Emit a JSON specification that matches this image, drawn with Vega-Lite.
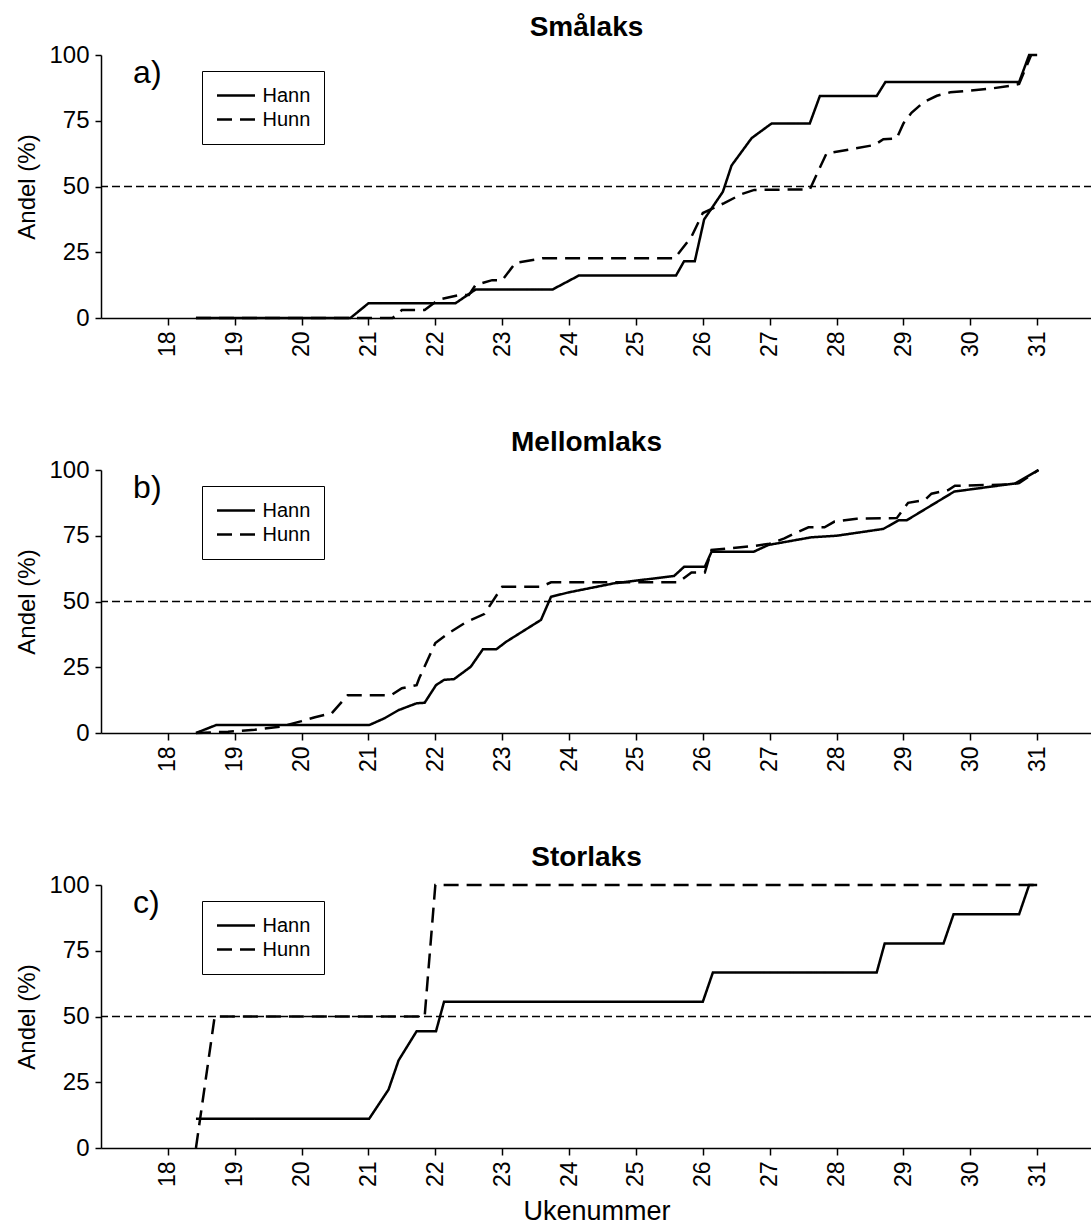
{
  "$schema": "https://vega.github.io/schema/vega-lite/v6.json",
  "padding": {"left": 15, "top": 14, "right": 0, "bottom": 0},
  "background": "white",
  "config": {
    "font": "Liberation Sans",
    "view": {"stroke": null},
    "axis": {
      "domainColor": "black", "domainWidth": 1.5, "tickColor": "black", "tickWidth": 1.5,
      "labelColor": "black", "titleColor": "black", "labelFont": "Liberation Sans", "titleFont": "Liberation Sans",
      "grid": false, "titleFontWeight": "normal"
    },
    "title": {"fontSize": 28, "fontWeight": "bold", "font": "Liberation Sans", "color": "black", "offset": 1},
    "legend": {
      "orient": "none", "legendX": 101, "legendY": 16, "title": null,
      "symbolType": "stroke", "symbolSize": 1444, "symbolStrokeWidth": 2.5, "symbolStrokeColor": "black",
      "labelFontSize": 20, "labelFont": "Liberation Sans", "labelColor": "black", "labelOffset": 6,
      "strokeColor": "black", "fillColor": "white", "padding": 13.5, "rowPadding": 2, "clipHeight": 22
    }
  },
  "datasets": {
    "curves": [
      {"panel": "a", "sex": "Hann", "week": 18.42, "pct": 0},
      {"panel": "a", "sex": "Hann", "week": 20.73, "pct": 0},
      {"panel": "a", "sex": "Hann", "week": 21.0, "pct": 5.6},
      {"panel": "a", "sex": "Hann", "week": 22.3, "pct": 5.6},
      {"panel": "a", "sex": "Hann", "week": 22.6, "pct": 10.8},
      {"panel": "a", "sex": "Hann", "week": 23.75, "pct": 10.8},
      {"panel": "a", "sex": "Hann", "week": 24.15, "pct": 16.2},
      {"panel": "a", "sex": "Hann", "week": 25.6, "pct": 16.2},
      {"panel": "a", "sex": "Hann", "week": 25.72, "pct": 21.6},
      {"panel": "a", "sex": "Hann", "week": 25.88, "pct": 21.6},
      {"panel": "a", "sex": "Hann", "week": 26.02, "pct": 37.5},
      {"panel": "a", "sex": "Hann", "week": 26.3, "pct": 48},
      {"panel": "a", "sex": "Hann", "week": 26.43, "pct": 58},
      {"panel": "a", "sex": "Hann", "week": 26.73, "pct": 68.4},
      {"panel": "a", "sex": "Hann", "week": 27.03, "pct": 74},
      {"panel": "a", "sex": "Hann", "week": 27.6, "pct": 74},
      {"panel": "a", "sex": "Hann", "week": 27.75, "pct": 84.4},
      {"panel": "a", "sex": "Hann", "week": 28.6, "pct": 84.4},
      {"panel": "a", "sex": "Hann", "week": 28.73, "pct": 89.7},
      {"panel": "a", "sex": "Hann", "week": 30.73, "pct": 89.7},
      {"panel": "a", "sex": "Hann", "week": 30.88, "pct": 100},
      {"panel": "a", "sex": "Hann", "week": 31.0, "pct": 100},

      {"panel": "a", "sex": "Hunn", "week": 18.42, "pct": 0},
      {"panel": "a", "sex": "Hunn", "week": 21.36, "pct": 0},
      {"panel": "a", "sex": "Hunn", "week": 21.5, "pct": 3},
      {"panel": "a", "sex": "Hunn", "week": 21.84, "pct": 3},
      {"panel": "a", "sex": "Hunn", "week": 22.05, "pct": 7},
      {"panel": "a", "sex": "Hunn", "week": 22.35, "pct": 8.7},
      {"panel": "a", "sex": "Hunn", "week": 22.5, "pct": 8.7},
      {"panel": "a", "sex": "Hunn", "week": 22.6, "pct": 12.5},
      {"panel": "a", "sex": "Hunn", "week": 22.85, "pct": 14.4},
      {"panel": "a", "sex": "Hunn", "week": 23.0, "pct": 14.4},
      {"panel": "a", "sex": "Hunn", "week": 23.2, "pct": 21},
      {"panel": "a", "sex": "Hunn", "week": 23.5, "pct": 22.2},
      {"panel": "a", "sex": "Hunn", "week": 23.6, "pct": 22.7},
      {"panel": "a", "sex": "Hunn", "week": 25.58, "pct": 22.7},
      {"panel": "a", "sex": "Hunn", "week": 25.83, "pct": 30.9},
      {"panel": "a", "sex": "Hunn", "week": 26.0, "pct": 39.9},
      {"panel": "a", "sex": "Hunn", "week": 26.32, "pct": 43.7},
      {"panel": "a", "sex": "Hunn", "week": 26.58, "pct": 47.1},
      {"panel": "a", "sex": "Hunn", "week": 26.77, "pct": 48.7},
      {"panel": "a", "sex": "Hunn", "week": 27.6, "pct": 48.9},
      {"panel": "a", "sex": "Hunn", "week": 27.85, "pct": 62.6},
      {"panel": "a", "sex": "Hunn", "week": 28.2, "pct": 64.1},
      {"panel": "a", "sex": "Hunn", "week": 28.57, "pct": 65.8},
      {"panel": "a", "sex": "Hunn", "week": 28.7, "pct": 68},
      {"panel": "a", "sex": "Hunn", "week": 28.9, "pct": 68.3},
      {"panel": "a", "sex": "Hunn", "week": 29.0, "pct": 74},
      {"panel": "a", "sex": "Hunn", "week": 29.12, "pct": 78},
      {"panel": "a", "sex": "Hunn", "week": 29.3, "pct": 82},
      {"panel": "a", "sex": "Hunn", "week": 29.5, "pct": 84.5},
      {"panel": "a", "sex": "Hunn", "week": 29.7, "pct": 85.8},
      {"panel": "a", "sex": "Hunn", "week": 30.0, "pct": 86.5},
      {"panel": "a", "sex": "Hunn", "week": 30.3, "pct": 87.2},
      {"panel": "a", "sex": "Hunn", "week": 30.6, "pct": 88.3},
      {"panel": "a", "sex": "Hunn", "week": 30.73, "pct": 89},
      {"panel": "a", "sex": "Hunn", "week": 30.91, "pct": 100},

      {"panel": "b", "sex": "Hann", "week": 18.42, "pct": 0},
      {"panel": "b", "sex": "Hann", "week": 18.72, "pct": 3.0},
      {"panel": "b", "sex": "Hann", "week": 21.01, "pct": 3.0},
      {"panel": "b", "sex": "Hann", "week": 21.24, "pct": 5.6},
      {"panel": "b", "sex": "Hann", "week": 21.45, "pct": 8.7},
      {"panel": "b", "sex": "Hann", "week": 21.72, "pct": 11.3},
      {"panel": "b", "sex": "Hann", "week": 21.84, "pct": 11.5},
      {"panel": "b", "sex": "Hann", "week": 22.01, "pct": 18.2},
      {"panel": "b", "sex": "Hann", "week": 22.13, "pct": 20.2},
      {"panel": "b", "sex": "Hann", "week": 22.28, "pct": 20.5},
      {"panel": "b", "sex": "Hann", "week": 22.53, "pct": 25.2},
      {"panel": "b", "sex": "Hann", "week": 22.71, "pct": 31.8},
      {"panel": "b", "sex": "Hann", "week": 22.91, "pct": 31.8},
      {"panel": "b", "sex": "Hann", "week": 23.06, "pct": 34.7},
      {"panel": "b", "sex": "Hann", "week": 23.58, "pct": 43},
      {"panel": "b", "sex": "Hann", "week": 23.73, "pct": 51.8},
      {"panel": "b", "sex": "Hann", "week": 24.0, "pct": 53.5},
      {"panel": "b", "sex": "Hann", "week": 24.67, "pct": 56.9},
      {"panel": "b", "sex": "Hann", "week": 25.57, "pct": 59.7},
      {"panel": "b", "sex": "Hann", "week": 25.72, "pct": 63.2},
      {"panel": "b", "sex": "Hann", "week": 26.03, "pct": 63.2},
      {"panel": "b", "sex": "Hann", "week": 26.13, "pct": 68.9},
      {"panel": "b", "sex": "Hann", "week": 26.76, "pct": 68.9},
      {"panel": "b", "sex": "Hann", "week": 26.98, "pct": 71.5},
      {"panel": "b", "sex": "Hann", "week": 27.62, "pct": 74.4},
      {"panel": "b", "sex": "Hann", "week": 28.0, "pct": 75},
      {"panel": "b", "sex": "Hann", "week": 28.7, "pct": 77.6},
      {"panel": "b", "sex": "Hann", "week": 28.93, "pct": 80.9},
      {"panel": "b", "sex": "Hann", "week": 29.05, "pct": 80.9},
      {"panel": "b", "sex": "Hann", "week": 29.76, "pct": 91.8},
      {"panel": "b", "sex": "Hann", "week": 30.67, "pct": 94.9},
      {"panel": "b", "sex": "Hann", "week": 31.02, "pct": 100},

      {"panel": "b", "sex": "Hunn", "week": 18.42, "pct": 0},
      {"panel": "b", "sex": "Hunn", "week": 18.9, "pct": 0.5},
      {"panel": "b", "sex": "Hunn", "week": 19.3, "pct": 1.2},
      {"panel": "b", "sex": "Hunn", "week": 19.7, "pct": 2.5},
      {"panel": "b", "sex": "Hunn", "week": 20.0, "pct": 4.5},
      {"panel": "b", "sex": "Hunn", "week": 20.2, "pct": 6},
      {"panel": "b", "sex": "Hunn", "week": 20.45, "pct": 7.5},
      {"panel": "b", "sex": "Hunn", "week": 20.69, "pct": 14.4},
      {"panel": "b", "sex": "Hunn", "week": 21.34, "pct": 14.4},
      {"panel": "b", "sex": "Hunn", "week": 21.5, "pct": 17},
      {"panel": "b", "sex": "Hunn", "week": 21.72, "pct": 18.2},
      {"panel": "b", "sex": "Hunn", "week": 21.76, "pct": 20.9},
      {"panel": "b", "sex": "Hunn", "week": 22.0, "pct": 34.2},
      {"panel": "b", "sex": "Hunn", "week": 22.2, "pct": 38},
      {"panel": "b", "sex": "Hunn", "week": 22.45, "pct": 42},
      {"panel": "b", "sex": "Hunn", "week": 22.73, "pct": 45.2},
      {"panel": "b", "sex": "Hunn", "week": 23.0, "pct": 55.6},
      {"panel": "b", "sex": "Hunn", "week": 23.58, "pct": 55.6},
      {"panel": "b", "sex": "Hunn", "week": 23.73, "pct": 57.3},
      {"panel": "b", "sex": "Hunn", "week": 25.63, "pct": 57.3},
      {"panel": "b", "sex": "Hunn", "week": 25.83, "pct": 61},
      {"panel": "b", "sex": "Hunn", "week": 26.03, "pct": 61},
      {"panel": "b", "sex": "Hunn", "week": 26.13, "pct": 69.6},
      {"panel": "b", "sex": "Hunn", "week": 26.76, "pct": 71.1},
      {"panel": "b", "sex": "Hunn", "week": 27.0, "pct": 72},
      {"panel": "b", "sex": "Hunn", "week": 27.22, "pct": 74},
      {"panel": "b", "sex": "Hunn", "week": 27.37, "pct": 75.9},
      {"panel": "b", "sex": "Hunn", "week": 27.58, "pct": 78.2},
      {"panel": "b", "sex": "Hunn", "week": 27.82, "pct": 78.2},
      {"panel": "b", "sex": "Hunn", "week": 27.97, "pct": 80.4},
      {"panel": "b", "sex": "Hunn", "week": 28.3, "pct": 81.5},
      {"panel": "b", "sex": "Hunn", "week": 28.9, "pct": 81.7},
      {"panel": "b", "sex": "Hunn", "week": 29.07, "pct": 87.5},
      {"panel": "b", "sex": "Hunn", "week": 29.32, "pct": 88.6},
      {"panel": "b", "sex": "Hunn", "week": 29.42, "pct": 91},
      {"panel": "b", "sex": "Hunn", "week": 29.67, "pct": 92.4},
      {"panel": "b", "sex": "Hunn", "week": 29.77, "pct": 94},
      {"panel": "b", "sex": "Hunn", "week": 30.6, "pct": 94.5},
      {"panel": "b", "sex": "Hunn", "week": 30.73, "pct": 95},
      {"panel": "b", "sex": "Hunn", "week": 31.02, "pct": 100},

      {"panel": "c", "sex": "Hann", "week": 18.42, "pct": 11.1},
      {"panel": "c", "sex": "Hann", "week": 21.01, "pct": 11.1},
      {"panel": "c", "sex": "Hann", "week": 21.3, "pct": 22.2},
      {"panel": "c", "sex": "Hann", "week": 21.45, "pct": 33.3},
      {"panel": "c", "sex": "Hann", "week": 21.72, "pct": 44.4},
      {"panel": "c", "sex": "Hann", "week": 22.01, "pct": 44.4},
      {"panel": "c", "sex": "Hann", "week": 22.13, "pct": 55.6},
      {"panel": "c", "sex": "Hann", "week": 26.0, "pct": 55.6},
      {"panel": "c", "sex": "Hann", "week": 26.15, "pct": 66.7},
      {"panel": "c", "sex": "Hann", "week": 28.6, "pct": 66.7},
      {"panel": "c", "sex": "Hann", "week": 28.72, "pct": 77.8},
      {"panel": "c", "sex": "Hann", "week": 29.6, "pct": 77.8},
      {"panel": "c", "sex": "Hann", "week": 29.75, "pct": 88.9},
      {"panel": "c", "sex": "Hann", "week": 30.73, "pct": 88.9},
      {"panel": "c", "sex": "Hann", "week": 30.88, "pct": 100},
      {"panel": "c", "sex": "Hann", "week": 31.0, "pct": 100},

      {"panel": "c", "sex": "Hunn", "week": 18.42, "pct": 0},
      {"panel": "c", "sex": "Hunn", "week": 18.7, "pct": 50},
      {"panel": "c", "sex": "Hunn", "week": 21.84, "pct": 50},
      {"panel": "c", "sex": "Hunn", "week": 22.0, "pct": 100},
      {"panel": "c", "sex": "Hunn", "week": 31.02, "pct": 100}
    ],
    "one": [{"k": 1}]
  },
  "spacing": 72,
  "resolve": {"scale": {"strokeDash": "independent"}, "legend": {"strokeDash": "independent"}},
  "vconcat": [
    {
      "title": {"text": "Smålaks", "dx": -10},
      "width": 991, "height": 263,
      "layer": [
        {"data": {"name": "one"}, "mark": {"type": "rule", "strokeDash": [8, 4], "strokeWidth": 1.5, "color": "black"}, "encoding": {"y": {"datum": 50, "type": "quantitative"}}},
        {"data": {"name": "curves"}, "transform": [{"filter": "datum.panel === 'a'"}],
         "mark": {"type": "line", "color": "black", "strokeWidth": 2.5},
         "encoding": {
           "x": {"field": "week", "type": "quantitative", "scale": {"domain": [17, 31.82], "nice": false, "zero": false},
                 "axis": {"values": [18,19,20,21,22,23,24,25,26,27,28,29,30,31], "format": "d", "labelAngle": -90, "labelFontSize": 23, "tickSize": 7, "labelPadding": 6, "title": null}},
           "y": {"field": "pct", "type": "quantitative", "scale": {"domain": [0, 100], "nice": false},
                 "axis": {"values": [0,25,50,75,100], "format": "d", "labelFontSize": 24, "tickSize": 6, "labelPadding": 6, "title": "Andel (%)", "titleFontSize": 24, "titlePadding": 9}},
           "strokeDash": {"field": "sex", "type": "nominal", "scale": {"domain": ["Hann", "Hunn"], "range": [[1, 0], [15, 8]]}}
         }},
        {"data": {"name": "one"}, "mark": {"type": "text", "text": "a)", "fontSize": 32, "align": "left", "baseline": "alphabetic", "color": "black"},
         "encoding": {"x": {"datum": 17.48, "type": "quantitative"}, "y": {"datum": 89.2, "type": "quantitative"}}}
      ]
    },
    {
      "title": {"text": "Mellomlaks", "dx": -10},
      "width": 991, "height": 263,
      "layer": [
        {"data": {"name": "one"}, "mark": {"type": "rule", "strokeDash": [8, 4], "strokeWidth": 1.5, "color": "black"}, "encoding": {"y": {"datum": 50, "type": "quantitative"}}},
        {"data": {"name": "curves"}, "transform": [{"filter": "datum.panel === 'b'"}],
         "mark": {"type": "line", "color": "black", "strokeWidth": 2.5},
         "encoding": {
           "x": {"field": "week", "type": "quantitative", "scale": {"domain": [17, 31.82], "nice": false, "zero": false},
                 "axis": {"values": [18,19,20,21,22,23,24,25,26,27,28,29,30,31], "format": "d", "labelAngle": -90, "labelFontSize": 23, "tickSize": 7, "labelPadding": 6, "title": null}},
           "y": {"field": "pct", "type": "quantitative", "scale": {"domain": [0, 100], "nice": false},
                 "axis": {"values": [0,25,50,75,100], "format": "d", "labelFontSize": 24, "tickSize": 6, "labelPadding": 6, "title": "Andel (%)", "titleFontSize": 24, "titlePadding": 9}},
           "strokeDash": {"field": "sex", "type": "nominal", "scale": {"domain": ["Hann", "Hunn"], "range": [[1, 0], [15, 8]]}}
         }},
        {"data": {"name": "one"}, "mark": {"type": "text", "text": "b)", "fontSize": 32, "align": "left", "baseline": "alphabetic", "color": "black"},
         "encoding": {"x": {"datum": 17.48, "type": "quantitative"}, "y": {"datum": 89.2, "type": "quantitative"}}}
      ]
    },
    {
      "title": {"text": "Storlaks", "dx": -10},
      "width": 991, "height": 263,
      "layer": [
        {"data": {"name": "one"}, "mark": {"type": "rule", "strokeDash": [8, 4], "strokeWidth": 1.5, "color": "black"}, "encoding": {"y": {"datum": 50, "type": "quantitative"}}},
        {"data": {"name": "curves"}, "transform": [{"filter": "datum.panel === 'c'"}],
         "mark": {"type": "line", "color": "black", "strokeWidth": 2.5},
         "encoding": {
           "x": {"field": "week", "type": "quantitative", "scale": {"domain": [17, 31.82], "nice": false, "zero": false},
                 "axis": {"values": [18,19,20,21,22,23,24,25,26,27,28,29,30,31], "format": "d", "labelAngle": -90, "labelFontSize": 23, "tickSize": 7, "labelPadding": 6, "title": "Ukenummer", "titleFontSize": 27, "titlePadding": 12}},
           "y": {"field": "pct", "type": "quantitative", "scale": {"domain": [0, 100], "nice": false},
                 "axis": {"values": [0,25,50,75,100], "format": "d", "labelFontSize": 24, "tickSize": 6, "labelPadding": 6, "title": "Andel (%)", "titleFontSize": 24, "titlePadding": 9}},
           "strokeDash": {"field": "sex", "type": "nominal", "scale": {"domain": ["Hann", "Hunn"], "range": [[1, 0], [15, 8]]}}
         }},
        {"data": {"name": "one"}, "mark": {"type": "text", "text": "c)", "fontSize": 32, "align": "left", "baseline": "alphabetic", "color": "black"},
         "encoding": {"x": {"datum": 17.48, "type": "quantitative"}, "y": {"datum": 89.2, "type": "quantitative"}}}
      ]
    }
  ]
}
